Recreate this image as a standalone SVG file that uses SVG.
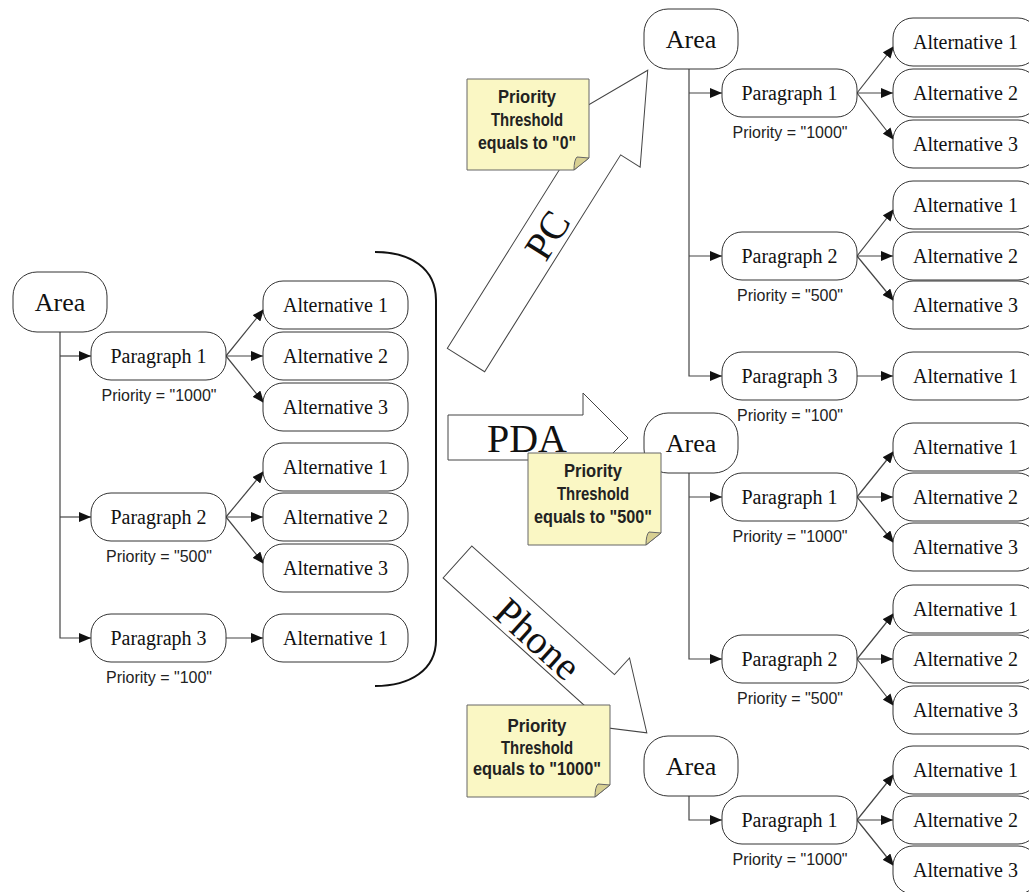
<svg xmlns="http://www.w3.org/2000/svg" width="1029" height="892" viewBox="0 0 1029 892">
  <style>
    .node rect { fill: #fff; stroke: #333; stroke-width: 1; }
    .lbl { font-family: "Liberation Serif", "Times New Roman", serif; font-size: 20px; fill: #111; text-anchor: middle; }
    .area-lbl { font-size: 26px; }
    .prio { font-family: "Liberation Sans", Arial, sans-serif; font-size: 16px; fill: #222; text-anchor: middle; }
    .conn { fill: none; stroke: #444; stroke-width: 1.2; }
    .big { fill: #fff; stroke: #444; stroke-width: 1; }
    .big-lbl { font-family: "Liberation Serif", "Times New Roman", serif; font-size: 40px; fill: #111; text-anchor: middle; }
    .note-body { fill: #faf7c4; stroke: #666; stroke-width: 1; }
    .note-fold { fill: #d8d092; stroke: #666; stroke-width: 1; }
    .note-txt { font-family: "Liberation Sans", Arial, sans-serif; font-weight: bold; font-size: 18px; fill: #222; text-anchor: middle; }
    .bracket { fill: none; stroke: #111; stroke-width: 2; }
  </style>
  <defs>
    <marker id="head" viewBox="0 0 12 10" refX="12" refY="5" markerWidth="12" markerHeight="10" markerUnits="userSpaceOnUse" orient="auto">
      <path d="M0,0 L12,5 L0,10 Z" fill="#111"/>
    </marker>
  </defs>
  <rect width="1029" height="892" fill="#fff"/>

  <!-- closing bracket around the source document -->
  <path id="bracket" class="bracket" d="M375,252 C410,252 436,268 436,300 L436,640 C436,670 410,686 375,686"/>

  <!-- device block arrows -->
  <g id="arrow-pc" transform="translate(466,360) rotate(-57.9)">
    <polygon class="big" points="0,-22 256,-22 256,-45 342,0 256,45 256,22 0,22"/>
    <text class="big-lbl" x="149" y="16">PC</text>
  </g>
  <g id="arrow-pda">
    <polygon class="big" points="448,415 583,415 583,393 628,438 583,483 583,460 448,460"/>
    <text class="big-lbl" x="527" y="452">PDA</text>
  </g>
  <g id="arrow-phone" transform="translate(457.5,562) rotate(42.06)">
    <polygon class="big" points="0,-21.5 192,-21.5 192,-44 255,0 192,44 192,21.5 0,21.5"/>
    <text class="big-lbl" x="111" y="17">Phone</text>
  </g>

  <!-- tree connectors -->
  <g id="connectors" class="conn">
    <!-- source document -->
    <path d="M60,332 V638 H91" marker-end="url(#head)"/>
    <path d="M60,356 H91" marker-end="url(#head)"/>
    <path d="M60,517 H91" marker-end="url(#head)"/>
    <path d="M226,356 L264,309" marker-end="url(#head)"/>
    <path d="M226,356 H263" marker-end="url(#head)"/>
    <path d="M226,356 L264,403" marker-end="url(#head)"/>
    <path d="M226,517 L264,471" marker-end="url(#head)"/>
    <path d="M226,517 H263" marker-end="url(#head)"/>
    <path d="M226,517 L264,564" marker-end="url(#head)"/>
    <path d="M226,638 H263" marker-end="url(#head)"/>
    <!-- PC result -->
    <path d="M689,69 V376 H722" marker-end="url(#head)"/>
    <path d="M689,93 H722" marker-end="url(#head)"/>
    <path d="M689,256 H722" marker-end="url(#head)"/>
    <path d="M857,93 L894,46" marker-end="url(#head)"/>
    <path d="M857,93 H893" marker-end="url(#head)"/>
    <path d="M857,93 L894,140" marker-end="url(#head)"/>
    <path d="M857,256 L894,209" marker-end="url(#head)"/>
    <path d="M857,256 H893" marker-end="url(#head)"/>
    <path d="M857,256 L894,301" marker-end="url(#head)"/>
    <path d="M857,376 H893" marker-end="url(#head)"/>
    <!-- PDA result -->
    <path d="M689,473 V659 H722" marker-end="url(#head)"/>
    <path d="M689,497 H722" marker-end="url(#head)"/>
    <path d="M857,497 L894,451" marker-end="url(#head)"/>
    <path d="M857,497 H893" marker-end="url(#head)"/>
    <path d="M857,497 L894,543" marker-end="url(#head)"/>
    <path d="M857,659 L894,613" marker-end="url(#head)"/>
    <path d="M857,659 H893" marker-end="url(#head)"/>
    <path d="M857,659 L894,706" marker-end="url(#head)"/>
    <!-- Phone result -->
    <path d="M689,796 V820 H722" marker-end="url(#head)"/>
    <path d="M857,820 L894,774" marker-end="url(#head)"/>
    <path d="M857,820 H893" marker-end="url(#head)"/>
    <path d="M857,820 L894,866" marker-end="url(#head)"/>
  </g>

  <!-- source document nodes -->
  <g id="src-area" class="node"><rect x="13" y="272" width="94" height="60" rx="24"/><text class="lbl area-lbl" x="60" y="311">Area</text></g>
  <g id="src-p1" class="node"><rect x="91" y="332" width="135" height="48" rx="20"/><text class="lbl" x="158.5" y="363">Paragraph 1</text><text class="prio" x="159" y="401">Priority = "1000"</text></g>
  <g id="src-p1-a1" class="node"><rect x="263" y="281" width="145" height="48" rx="20"/><text class="lbl" x="335.5" y="312">Alternative 1</text></g>
  <g id="src-p1-a2" class="node"><rect x="263" y="332" width="145" height="48" rx="20"/><text class="lbl" x="335.5" y="363">Alternative 2</text></g>
  <g id="src-p1-a3" class="node"><rect x="263" y="383" width="145" height="48" rx="20"/><text class="lbl" x="335.5" y="414">Alternative 3</text></g>
  <g id="src-p2" class="node"><rect x="91" y="493" width="135" height="48" rx="20"/><text class="lbl" x="158.5" y="524">Paragraph 2</text><text class="prio" x="159" y="562">Priority = "500"</text></g>
  <g id="src-p2-a1" class="node"><rect x="263" y="443" width="145" height="48" rx="20"/><text class="lbl" x="335.5" y="474">Alternative 1</text></g>
  <g id="src-p2-a2" class="node"><rect x="263" y="493" width="145" height="48" rx="20"/><text class="lbl" x="335.5" y="524">Alternative 2</text></g>
  <g id="src-p2-a3" class="node"><rect x="263" y="544" width="145" height="48" rx="20"/><text class="lbl" x="335.5" y="575">Alternative 3</text></g>
  <g id="src-p3" class="node"><rect x="91" y="614" width="135" height="48" rx="20"/><text class="lbl" x="158.5" y="645">Paragraph 3</text><text class="prio" x="159" y="683">Priority = "100"</text></g>
  <g id="src-p3-a1" class="node"><rect x="263" y="614" width="145" height="48" rx="20"/><text class="lbl" x="335.5" y="645">Alternative 1</text></g>

  <!-- PC result nodes -->
  <g id="pc-area" class="node"><rect x="644" y="9" width="94" height="60" rx="24"/><text class="lbl area-lbl" x="691" y="48">Area</text></g>
  <g id="pc-p1" class="node"><rect x="722" y="69" width="135" height="48" rx="20"/><text class="lbl" x="789.5" y="100">Paragraph 1</text><text class="prio" x="790" y="138">Priority = "1000"</text></g>
  <g id="pc-p1-a1" class="node"><rect x="893" y="18" width="145" height="48" rx="20"/><text class="lbl" x="965.5" y="49">Alternative 1</text></g>
  <g id="pc-p1-a2" class="node"><rect x="893" y="69" width="145" height="48" rx="20"/><text class="lbl" x="965.5" y="100">Alternative 2</text></g>
  <g id="pc-p1-a3" class="node"><rect x="893" y="120" width="145" height="48" rx="20"/><text class="lbl" x="965.5" y="151">Alternative 3</text></g>
  <g id="pc-p2" class="node"><rect x="722" y="232" width="135" height="48" rx="20"/><text class="lbl" x="789.5" y="263">Paragraph 2</text><text class="prio" x="790" y="301">Priority = "500"</text></g>
  <g id="pc-p2-a1" class="node"><rect x="893" y="181" width="145" height="48" rx="20"/><text class="lbl" x="965.5" y="212">Alternative 1</text></g>
  <g id="pc-p2-a2" class="node"><rect x="893" y="232" width="145" height="48" rx="20"/><text class="lbl" x="965.5" y="263">Alternative 2</text></g>
  <g id="pc-p2-a3" class="node"><rect x="893" y="281" width="145" height="48" rx="20"/><text class="lbl" x="965.5" y="312">Alternative 3</text></g>
  <g id="pc-p3" class="node"><rect x="722" y="352" width="135" height="48" rx="20"/><text class="lbl" x="789.5" y="383">Paragraph 3</text><text class="prio" x="790" y="421">Priority = "100"</text></g>
  <g id="pc-p3-a1" class="node"><rect x="893" y="352" width="145" height="48" rx="20"/><text class="lbl" x="965.5" y="383">Alternative 1</text></g>

  <!-- PDA result nodes -->
  <g id="pda-area" class="node"><rect x="644" y="413" width="94" height="60" rx="24"/><text class="lbl area-lbl" x="691" y="452">Area</text></g>
  <g id="pda-p1" class="node"><rect x="722" y="473" width="135" height="48" rx="20"/><text class="lbl" x="789.5" y="504">Paragraph 1</text><text class="prio" x="790" y="542">Priority = "1000"</text></g>
  <g id="pda-p1-a1" class="node"><rect x="893" y="423" width="145" height="48" rx="20"/><text class="lbl" x="965.5" y="454">Alternative 1</text></g>
  <g id="pda-p1-a2" class="node"><rect x="893" y="473" width="145" height="48" rx="20"/><text class="lbl" x="965.5" y="504">Alternative 2</text></g>
  <g id="pda-p1-a3" class="node"><rect x="893" y="523" width="145" height="48" rx="20"/><text class="lbl" x="965.5" y="554">Alternative 3</text></g>
  <g id="pda-p2" class="node"><rect x="722" y="635" width="135" height="48" rx="20"/><text class="lbl" x="789.5" y="666">Paragraph 2</text><text class="prio" x="790" y="704">Priority = "500"</text></g>
  <g id="pda-p2-a1" class="node"><rect x="893" y="585" width="145" height="48" rx="20"/><text class="lbl" x="965.5" y="616">Alternative 1</text></g>
  <g id="pda-p2-a2" class="node"><rect x="893" y="635" width="145" height="48" rx="20"/><text class="lbl" x="965.5" y="666">Alternative 2</text></g>
  <g id="pda-p2-a3" class="node"><rect x="893" y="686" width="145" height="48" rx="20"/><text class="lbl" x="965.5" y="717">Alternative 3</text></g>

  <!-- Phone result nodes -->
  <g id="phone-area" class="node"><rect x="644" y="736" width="94" height="60" rx="24"/><text class="lbl area-lbl" x="691" y="775">Area</text></g>
  <g id="phone-p1" class="node"><rect x="722" y="796" width="135" height="48" rx="20"/><text class="lbl" x="789.5" y="827">Paragraph 1</text><text class="prio" x="790" y="865">Priority = "1000"</text></g>
  <g id="phone-p1-a1" class="node"><rect x="893" y="746" width="145" height="48" rx="20"/><text class="lbl" x="965.5" y="777">Alternative 1</text></g>
  <g id="phone-p1-a2" class="node"><rect x="893" y="796" width="145" height="48" rx="20"/><text class="lbl" x="965.5" y="827">Alternative 2</text></g>
  <g id="phone-p1-a3" class="node"><rect x="893" y="846" width="145" height="48" rx="20"/><text class="lbl" x="965.5" y="877">Alternative 3</text></g>

  <!-- threshold notes -->
  <g id="note-pc">
    <path class="note-body" d="M467,79 H589 V158 L574,170 H467 Z"/>
    <path class="note-fold" d="M589,158 L574,170 Q574,160 577,157 Z"/>
    <text class="note-txt" x="527" y="103" textLength="58" lengthAdjust="spacingAndGlyphs">Priority</text>
    <text class="note-txt" x="527" y="126" textLength="72" lengthAdjust="spacingAndGlyphs">Threshold</text>
    <text class="note-txt" x="527" y="149" textLength="98" lengthAdjust="spacingAndGlyphs">equals to "0"</text>
  </g>
  <g id="note-pda">
    <path class="note-body" d="M528,453 H661 V533 L646,545 H528 Z"/>
    <path class="note-fold" d="M661,533 L646,545 Q646,535 649,532 Z"/>
    <text class="note-txt" x="593" y="477" textLength="58" lengthAdjust="spacingAndGlyphs">Priority</text>
    <text class="note-txt" x="593" y="500" textLength="72" lengthAdjust="spacingAndGlyphs">Threshold</text>
    <text class="note-txt" x="593" y="523" textLength="118" lengthAdjust="spacingAndGlyphs">equals to "500"</text>
  </g>
  <g id="note-phone">
    <path class="note-body" d="M467,705 H610 V785 L595,797 H467 Z"/>
    <path class="note-fold" d="M610,785 L595,797 Q595,787 598,784 Z"/>
    <text class="note-txt" x="537" y="732" textLength="59" lengthAdjust="spacingAndGlyphs">Priority</text>
    <text class="note-txt" x="537" y="754" textLength="72" lengthAdjust="spacingAndGlyphs">Threshold</text>
    <text class="note-txt" x="537" y="775" textLength="128" lengthAdjust="spacingAndGlyphs">equals to "1000"</text>
  </g>
</svg>
